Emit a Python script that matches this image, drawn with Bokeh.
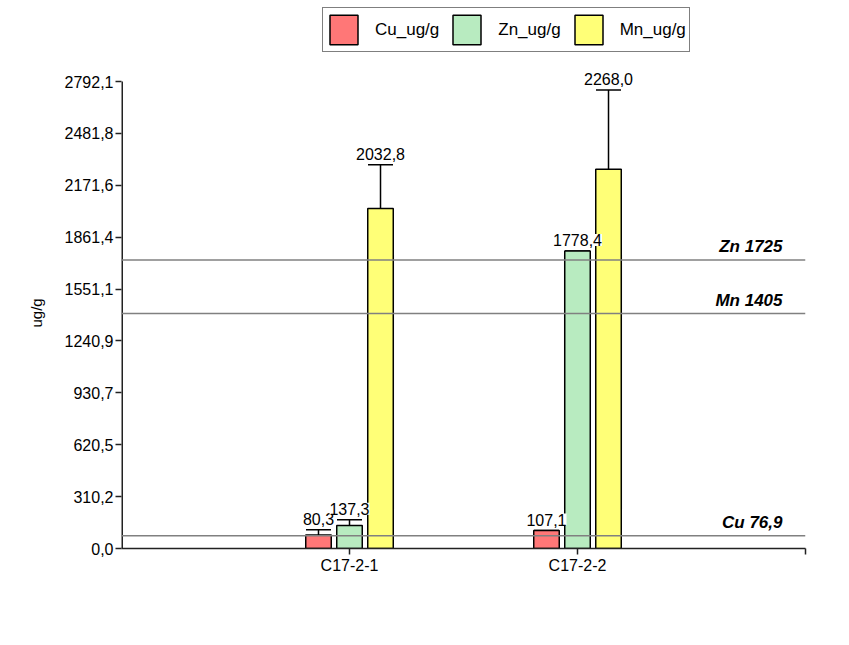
from bokeh.plotting import figure
from bokeh.models import (ColumnDataSource, Range1d, FixedTicker, CustomJSTickFormatter,
                          Span, Whisker, TeeHead, Legend, LegendItem, LabelSet, Title)
from bokeh.transform import dodge
from bokeh.core.properties import value
from bokeh.embed import file_html
from bokeh.resources import INLINE

# ---------------- data ----------------
samples = ["C17-2-1", "C17-2-2"]
series_names = ["Cu_ug/g", "Zn_ug/g", "Mn_ug/g"]
cu = [80.3, 107.1]
zn = [137.3, 1778.4]
mn = [2032.8, 2268.0]
cu_err = [32, 0]
zn_err = [34, 0]
mn_err = [262, 474]
y_tick_labels = ["0,0", "310,2", "620,5", "930,7", "1240,9", "1551,1",
                 "1861,4", "2171,6", "2481,8", "2792,1"]
ref_names = ["Zn 1725", "Mn 1405", "Cu 76,9"]
ref_values = [1725, 1405, 76.9]

# ---------------- styling ----------------
FONT = "Liberation Sans"
colors = ["#FF7777", "#B8EBC0", "#FFFF77"]
offsets = [-0.136, 0.0, 0.136]
bar_w = 0.112
FRAME_H = 548          # full frame height (px); axis part spans AXIS_H px
AXIS_H = 467

y_max = float(y_tick_labels[-1].replace(",", "."))
y_top = y_max * FRAME_H / AXIS_H     # headroom above the axis for legend / labels
x_max = len(samples) + 1
xs = list(range(1, len(samples) + 1))

p = figure(width=849, height=645, output_backend="svg", toolbar_location=None,
           x_range=Range1d(0, x_max), y_range=Range1d(0, y_top),
           min_border_left=121, min_border_right=44, min_border_top=0, min_border_bottom=97)
p.outline_line_color = None
p.xgrid.visible = False
p.ygrid.visible = False
p.background_fill_color = "white"

# reference lines
for v in ref_values:
    p.add_layout(Span(location=v, dimension="width", line_color="#808080", line_width=1.5))

# y axis line only up to the last tick
p.segment(x0=[0], y0=[0], x1=[0], y1=[y_max], line_color="#222222", line_width=3)

bar_renderers = []
sources = []
for vals, errs, off, col in zip([cu, zn, mn], [cu_err, zn_err, mn_err], offsets, colors):
    src = ColumnDataSource(dict(
        x=xs, top=vals, upper=[v + e for v, e in zip(vals, errs)],
        label=[f"{v:.1f}".replace(".", ",") for v in vals]))
    sources.append((src, off))
    r = p.vbar(x=dodge("x", off, range=p.x_range), top="top", width=bar_w, source=src,
               fill_color=col, line_color="black", line_width=1.5)
    bar_renderers.append(r)
    p.add_layout(Whisker(base=dodge("x", off, range=p.x_range), lower="top", upper="upper",
                         source=src, lower_head=None,
                         upper_head=TeeHead(size=25, line_color="black", line_width=1.5),
                         line_color="black", line_width=1.5))

for src, off in sources:
    p.add_layout(LabelSet(x=dodge("x", off, range=p.x_range), y="upper", text="label", source=src,
                          text_align="center", text_baseline="bottom", y_offset=5,
                          text_font=value(FONT), text_font_size=value("16px"),
                          text_color="black", background_fill_color="white"))

# reference labels
ref_src = ColumnDataSource(dict(x=[x_max] * len(ref_values), y=ref_values, t=ref_names))
p.add_layout(LabelSet(x="x", y="y", text="t", source=ref_src, text_align="right",
                      text_baseline="bottom", x_offset=-23, y_offset=4,
                      text_font=value(FONT), text_font_size=value("17px"),
                      text_font_style="bold italic", text_color="black"))

# axes
n = len(y_tick_labels)
y_ticks = [y_max * i / (n - 1) for i in range(n - 1)] + [y_max]
p.yaxis.ticker = FixedTicker(ticks=y_ticks)
p.yaxis.formatter = CustomJSTickFormatter(args=dict(labels=y_tick_labels, step=y_max / (n - 1)),
    code="const i = Math.round(tick/step); return (i >= 0 && i < labels.length) ? labels[i] : '';")
p.xaxis.ticker = FixedTicker(ticks=xs + [x_max])
p.xaxis.formatter = CustomJSTickFormatter(args=dict(labels=samples),
    code="const i = Math.round(tick) - 1; return (i >= 0 && i < labels.length) ? labels[i] : '';")

for ax in (p.xaxis[0], p.yaxis[0]):
    ax.axis_line_color = "#222222"
    ax.axis_line_width = 1.5
    ax.major_tick_line_color = "#222222"
    ax.major_tick_line_width = 1.5
    ax.major_tick_out = 6
    ax.major_tick_in = 0
    ax.minor_tick_line_color = None
    ax.major_label_text_font = FONT
    ax.major_label_text_font_size = "16px"
    ax.major_label_text_color = "black"
    ax.major_label_standoff = 2
p.yaxis.axis_line_color = None

p.add_layout(Title(text="ug/g", align="left", offset=221, standoff=34,
                   text_font=FONT, text_font_size="15px", text_font_style="normal",
                   text_color="black"), "left")

legend = Legend(items=[LegendItem(label=nm, renderers=[r]) for nm, r in zip(series_names, bar_renderers)],
                orientation="horizontal", location=(201, 496),
                glyph_width=35, glyph_height=37, label_standoff=14, spacing=10,
                padding=3, margin=0, border_line_color="black", border_line_width=1.5,
                background_fill_color="white", background_fill_alpha=1.0,
                label_text_font=FONT, label_text_font_size="17px", label_text_color="black")
p.add_layout(legend)

open("out.html", "w").write(file_html(p, INLINE))
